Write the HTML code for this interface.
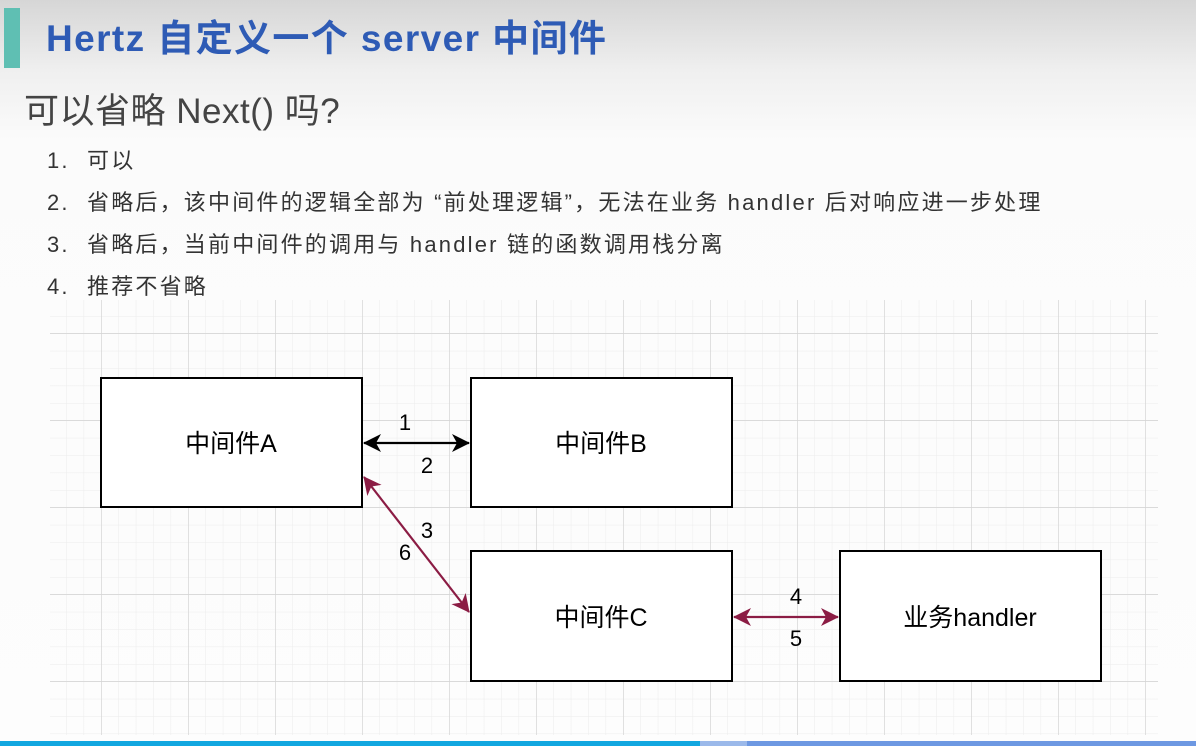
<!DOCTYPE html>
<html><head><meta charset="utf-8"><style>
body{margin:0;width:1196px;height:746px;overflow:hidden;position:relative;font-family:"Liberation Sans","Noto Sans CJK SC",sans-serif;background:linear-gradient(#d6d6d6 0px,#efefef 70px,#fbfbfb 140px,#fdfdfd 746px)}
.bar{position:absolute;left:4px;top:8px;width:16px;height:60px;background:#5fbfb3}
.title{position:absolute;left:46px;top:8px;font-size:37px;letter-spacing:1.4px;font-weight:bold;color:#2e5bb5;white-space:nowrap}
.sub{position:absolute;left:24px;top:83px;font-size:35px;letter-spacing:0.5px;color:#444;white-space:nowrap}
.li{position:absolute;left:47px;font-size:22px;letter-spacing:2.2px;color:#333;white-space:nowrap}
.li span{display:inline-block;width:40px}
</style></head><body>
<div class="bar"></div>
<div class="title">Hertz 自定义一个 server 中间件</div>
<div class="sub">可以省略 Next() 吗?</div>
<div class="li" style="top:143px"><span>1.</span>可以</div>
<div class="li" style="top:185px"><span>2.</span>省略后，该中间件的逻辑全部为 “前处理逻辑”，无法在业务 handler 后对响应进一步处理</div>
<div class="li" style="top:227px"><span>3.</span>省略后，当前中间件的调用与 handler 链的函数调用栈分离</div>
<div class="li" style="top:269px"><span>4.</span>推荐不省略</div>
<svg width="1196" height="746" style="position:absolute;left:0;top:0">
<defs>
<pattern id="mn" x="14" y="316" width="17.4" height="17.4" patternUnits="userSpaceOnUse"><path d="M0 0H17.4M0 0V17.4" stroke="#ececec" stroke-width="1" fill="none"/></pattern>
<pattern id="mj" x="14" y="333" width="87" height="87" patternUnits="userSpaceOnUse"><path d="M0 0H87M0 0V87" stroke="#d4d4d4" stroke-width="1.4" fill="none"/></pattern>
<marker id="ab" markerWidth="20" markerHeight="20" refX="17" refY="9" orient="auto-start-reverse" markerUnits="userSpaceOnUse"><path d="M0 0L18 9L0 18L5 9Z" fill="#000"/></marker>
<marker id="ar" markerWidth="20" markerHeight="20" refX="17" refY="9" orient="auto-start-reverse" markerUnits="userSpaceOnUse"><path d="M0 0L18 9L0 18L5 9Z" fill="#8b1c44"/></marker>
</defs>
<rect x="50" y="300" width="1108" height="435" fill="url(#mn)"/>
<rect x="50" y="300" width="1108" height="435" fill="url(#mj)"/>
<g fill="#fff" stroke="#000" stroke-width="2">
<rect x="101" y="378" width="261" height="129"/>
<rect x="471" y="378" width="261" height="129"/>
<rect x="471" y="551" width="261" height="130"/>
<rect x="840" y="551" width="261" height="130"/>
</g>
<g font-size="25" text-anchor="middle" font-family="Liberation Sans,Noto Sans CJK SC,sans-serif" fill="#000">
<text x="231" y="452">中间件A</text><text x="601" y="452">中间件B</text>
<text x="601" y="626">中间件C</text><text x="970" y="626">业务handler</text>
</g>
<g font-size="22" text-anchor="middle" font-family="Liberation Sans,sans-serif" fill="#000">
<text x="405" y="430">1</text><text x="427" y="473">2</text>
<text x="427" y="538">3</text><text x="405" y="560">6</text>
<text x="796" y="604">4</text><text x="796" y="646">5</text>
</g>
<line x1="364" y1="443" x2="469" y2="443" stroke="#000" stroke-width="2.2" marker-start="url(#ab)" marker-end="url(#ab)"/>
<line x1="364" y1="477" x2="469" y2="612" stroke="#8b1c44" stroke-width="2.2" marker-start="url(#ar)" marker-end="url(#ar)"/>
<line x1="734" y1="617" x2="838" y2="617" stroke="#8b1c44" stroke-width="2.2" marker-start="url(#ar)" marker-end="url(#ar)"/>
<rect x="0" y="741" width="700" height="5" fill="#12a7e0"/>
<rect x="700" y="741" width="47" height="5" fill="#9bb9ea"/>
<rect x="747" y="741" width="449" height="5" fill="#6d98e2"/>
</svg>
</body></html>
